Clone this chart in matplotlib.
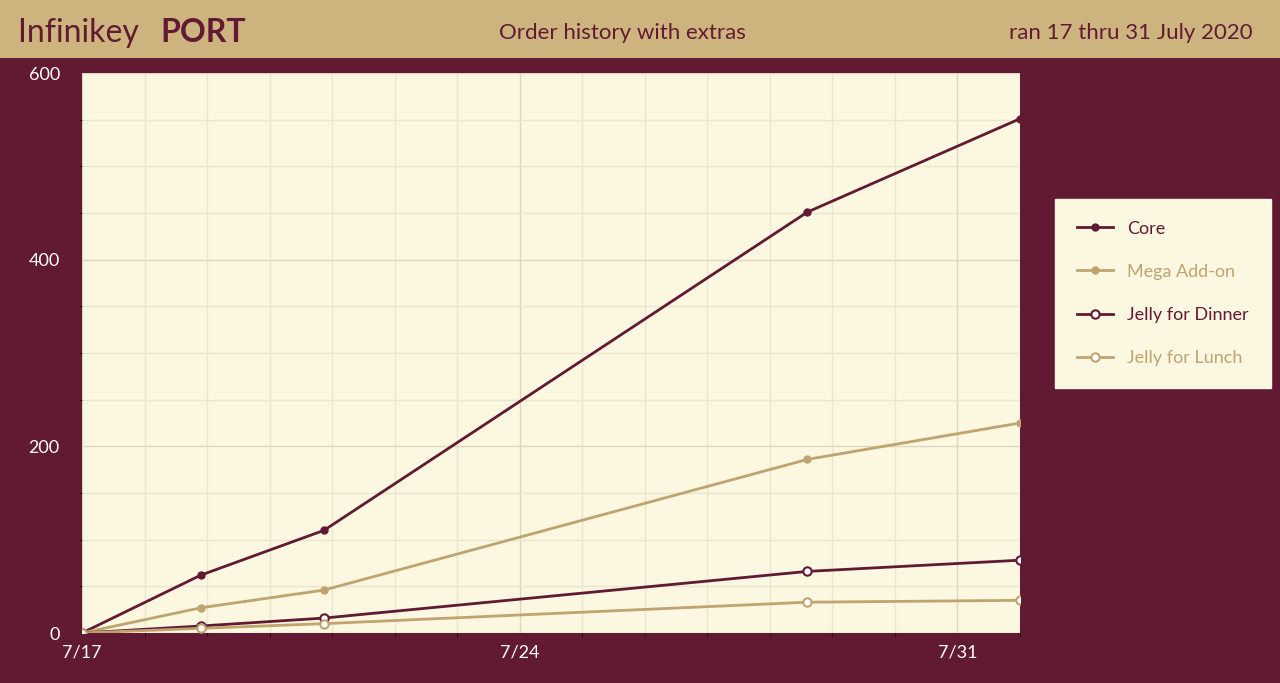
import matplotlib
matplotlib.use("Agg")
import matplotlib.pyplot as plt
import numpy as np

plt.rcParams['font.family'] = ['Lato', 'DejaVu Sans']

# days since 7/17
days = [0, 1.9, 3.87, 11.6, 15.0]
core = [0, 62, 110, 451, 551]
mega = [0, 27, 46, 186, 225]
jelly_dinner = [0, 7.5, 16, 66, 78]
jelly_lunch = [0, 5, 10, 33, 35]
tick_days = [0, 7, 14]
tick_labels = ['7/17', '7/24', '7/31']

maroon = '#621a33'
tan = '#bfa470'
header = '#cdb47e'
cream = '#fbf7e0'

fig = plt.figure(figsize=(12.8, 6.83), dpi=100, facecolor=maroon)
# header band
fig.patches.append(plt.Rectangle((0, 1 - 58/683), 1, 58/683, transform=fig.transFigure,
                                 facecolor=header, edgecolor='none'))
fig.text(18/1280, 1 - 33/683, 'Infinikey ', fontsize=23, color=maroon, va='center')
fig.text(160/1280, 1 - 33/683, 'PORT', fontsize=23, color=maroon, va='center', fontweight='bold')
fig.text(622/1280, 1 - 33/683, 'Order history with extras', fontsize=16, color=maroon, va='center', ha='center')
fig.text(1253/1280, 1 - 33/683, 'ran 17 thru 31 July 2020', fontsize=16, color=maroon, va='center', ha='right')

ax = fig.add_axes([82/1280, (683-633)/683, (1020-82)/1280, (633-73)/683])
ax.set_facecolor(cream)
ax.plot(days, core, color=maroon, lw=2, marker='o', ms=5, label='Core')
ax.plot(days, mega, color=tan, lw=2, marker='o', ms=5, label='Mega Add-on')
ax.plot(days, jelly_dinner, color=maroon, lw=2, marker='o', ms=6, mfc='white', mew=1.5, label='Jelly for Dinner')
ax.plot(days, jelly_lunch, color=tan, lw=2, marker='o', ms=6, mfc='white', mew=1.5, label='Jelly for Lunch')

ax.set_xlim(0, 15)
ax.set_ylim(0, 600)
ax.set_xticks(tick_days)
ax.set_xticklabels(tick_labels)
ax.set_xticks(np.arange(0, 16, 1), minor=True)
ax.set_yticks([0, 200, 400, 600])
ax.set_yticks(np.arange(0, 601, 50), minor=True)
ax.grid(True, which='minor', color='#ebe7cf', lw=1)
ax.grid(True, which='major', color='#dcd8bf', lw=1)
ax.tick_params(colors='white', labelsize=13, length=0, pad=8)
ax.tick_params(axis='y', pad=16)
for s in ax.spines.values():
    s.set_visible(False)
for lbl in ax.get_yticklabels():
    lbl.set_color('white')

leg = ax.legend(loc='upper left', bbox_to_anchor=(1046/938 - 82/938, (633-190)/560),
                facecolor=cream, edgecolor=cream, framealpha=1, fancybox=False,
                fontsize=13, labelspacing=1.5, borderpad=1.2, handlelength=2)
for t, c in zip(leg.get_texts(), [maroon, tan, maroon, tan]):
    t.set_color(c)

fig.savefig('out.png', dpi=100, facecolor=maroon)
